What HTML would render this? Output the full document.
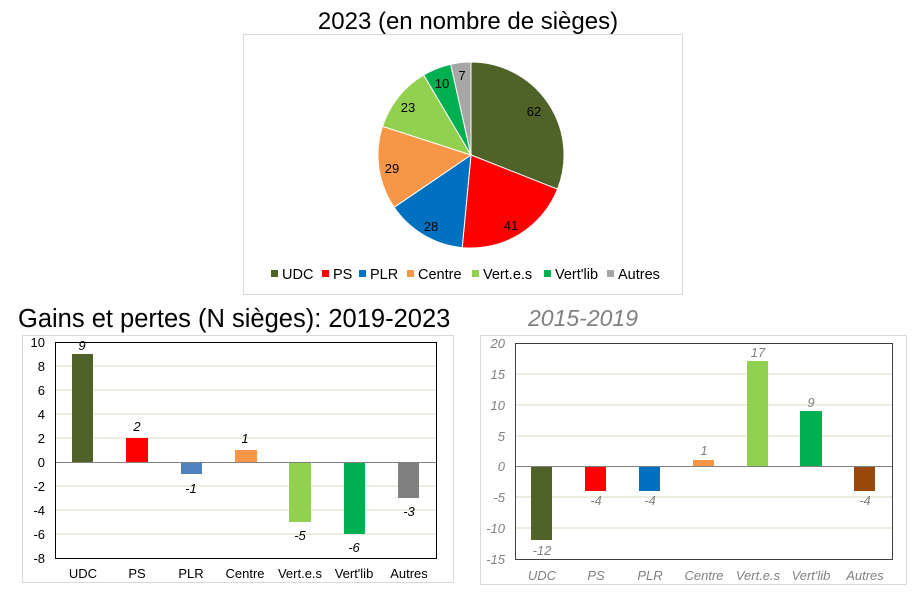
<!DOCTYPE html><html><head><meta charset="utf-8"><style>body{margin:0;background:#fff}svg{display:block;font-family:"Liberation Sans",sans-serif}</style></head><body>
<svg width="913" height="595" xmlns="http://www.w3.org/2000/svg">
<text x="468" y="29" font-size="24" text-anchor="middle">2023 (en nombre de sièges)</text>
<rect x="243.5" y="34.5" width="439" height="260" fill="#fff" stroke="#d9d9d9"/>
<g stroke="#fff" stroke-width="1">
<path d="M471,155 L471,62 A93,93 0 0 1 557.5,189.2Z" fill="#4F6228"/>
<path d="M471,155 L557.5,189.2 A93,93 0 0 1 462.2,247.6Z" fill="#FF0000"/>
<path d="M471,155 L462.2,247.6 A93,93 0 0 1 394.1,207.3Z" fill="#0070C0"/>
<path d="M471,155 L394.1,207.3 A93,93 0 0 1 382.5,126.3Z" fill="#F79646"/>
<path d="M471,155 L382.5,126.3 A93,93 0 0 1 423.7,75Z" fill="#92D050"/>
<path d="M471,155 L423.7,75 A93,93 0 0 1 450.7,64.2Z" fill="#00B050"/>
<path d="M471,155 L450.7,64.2 A93,93 0 0 1 471,62Z" fill="#A6A6A6"/>
</g>
<g font-size="13" text-anchor="middle">
<text x="534" y="116">62</text><text x="511" y="230">41</text><text x="431" y="231">28</text><text x="392" y="173">29</text><text x="408" y="112">23</text><text x="442" y="88">10</text><text x="462" y="80">7</text>
</g>
<g font-size="14.5">
<rect x="271" y="270" width="7" height="7" fill="#4F6228"/><text x="282" y="279">UDC</text>
<rect x="322" y="270" width="7" height="7" fill="#FF0000"/><text x="333" y="279">PS</text>
<rect x="359" y="270" width="7" height="7" fill="#0070C0"/><text x="370" y="279">PLR</text>
<rect x="407" y="270" width="7" height="7" fill="#F79646"/><text x="418" y="279">Centre</text>
<rect x="472" y="270" width="7" height="7" fill="#92D050"/><text x="483" y="279">Vert.e.s</text>
<rect x="544" y="270" width="7" height="7" fill="#00B050"/><text x="555" y="279">Vert'lib</text>
<rect x="607" y="270" width="7" height="7" fill="#A6A6A6"/><text x="618" y="279">Autres</text>
</g>
<text x="18" y="327" font-size="25.5">Gains et pertes (N sièges): 2019-2023</text>
<text x="528" y="326" font-size="23" font-style="italic" fill="#808080">2015-2019</text>
<!-- left chart -->
<rect x="22.5" y="335.5" width="431" height="247" fill="#fff" stroke="#d9d9d9"/>
<g stroke="#DDD9C3"><line x1="55" x2="436" y1="366" y2="366"/><line x1="55" x2="436" y1="390" y2="390"/><line x1="55" x2="436" y1="414" y2="414"/><line x1="55" x2="436" y1="438" y2="438"/><line x1="55" x2="436" y1="486" y2="486"/><line x1="55" x2="436" y1="510" y2="510"/><line x1="55" x2="436" y1="534" y2="534"/></g>
<rect x="72" y="354" width="21" height="108" fill="#4F6228"/>
<rect x="126" y="438" width="22" height="24" fill="#FF0000"/>
<rect x="181" y="462" width="21" height="12" fill="#4F81BD"/>
<rect x="235" y="450" width="22" height="12" fill="#F79646"/>
<rect x="289" y="462" width="22" height="60" fill="#92D050"/>
<rect x="344" y="462" width="21" height="72" fill="#00B050"/>
<rect x="398" y="462" width="21" height="36" fill="#808080"/>
<line x1="55" x2="436" y1="462.5" y2="462.5" stroke="#808080"/>
<rect x="55.5" y="342.5" width="381" height="216" fill="none" stroke="#000"/>
<g font-size="13" text-anchor="end"><text x="45" y="347">10</text><text x="45" y="371">8</text><text x="45" y="395">6</text><text x="45" y="419">4</text><text x="45" y="443">2</text><text x="45" y="467">0</text><text x="45" y="491">-2</text><text x="45" y="515">-4</text><text x="45" y="539">-6</text><text x="45" y="563">-8</text></g>
<g font-size="13" text-anchor="middle" font-style="italic"><text x="82" y="350">9</text><text x="137" y="431">2</text><text x="191" y="493">-1</text><text x="245" y="443">1</text><text x="300" y="540">-5</text><text x="354" y="552">-6</text><text x="409" y="516">-3</text></g>
<g font-size="13" text-anchor="middle"><text x="83" y="578">UDC</text><text x="137" y="578">PS</text><text x="191" y="578">PLR</text><text x="245" y="578">Centre</text><text x="300" y="578">Vert.e.s</text><text x="354" y="578">Vert'lib</text><text x="409" y="578">Autres</text></g>
<!-- right chart -->
<rect x="480.5" y="335.5" width="426" height="249" fill="#fff" stroke="#d9d9d9"/>
<g stroke="#DDD9C3"><line x1="515" x2="892" y1="374" y2="374"/><line x1="515" x2="892" y1="405" y2="405"/><line x1="515" x2="892" y1="436" y2="436"/><line x1="515" x2="892" y1="497" y2="497"/><line x1="515" x2="892" y1="528" y2="528"/></g>
<rect x="531" y="466" width="21" height="74" fill="#4F6228"/>
<rect x="585" y="466" width="21" height="25" fill="#FF0000"/>
<rect x="639" y="466" width="21" height="25" fill="#0070C0"/>
<rect x="693" y="460" width="21" height="6" fill="#F79646"/>
<rect x="747" y="361" width="21" height="105" fill="#92D050"/>
<rect x="800" y="411" width="22" height="55" fill="#00B050"/>
<rect x="854" y="466" width="21" height="25" fill="#984807"/>
<line x1="515" x2="892" y1="466.5" y2="466.5" stroke="#808080"/>
<rect x="515.5" y="343.5" width="377" height="216" fill="none" stroke="#404040"/>
<g font-size="13" text-anchor="end" font-style="italic" fill="#808080"><text x="505" y="348">20</text><text x="505" y="379">15</text><text x="505" y="410">10</text><text x="505" y="441">5</text><text x="505" y="471">0</text><text x="505" y="502">-5</text><text x="505" y="533">-10</text><text x="505" y="564">-15</text></g>
<g font-size="13" text-anchor="middle" font-style="italic" fill="#808080"><text x="542" y="555">-12</text><text x="596" y="505">-4</text><text x="650" y="505">-4</text><text x="704" y="455">1</text><text x="758" y="357">17</text><text x="811" y="407">9</text><text x="865" y="505">-4</text></g>
<g font-size="13" text-anchor="middle" font-style="italic" fill="#808080"><text x="542" y="580">UDC</text><text x="596" y="580">PS</text><text x="650" y="580">PLR</text><text x="704" y="580">Centre</text><text x="758" y="580">Vert.e.s</text><text x="811" y="580">Vert'lib</text><text x="865" y="580">Autres</text></g>
</svg></body></html>
